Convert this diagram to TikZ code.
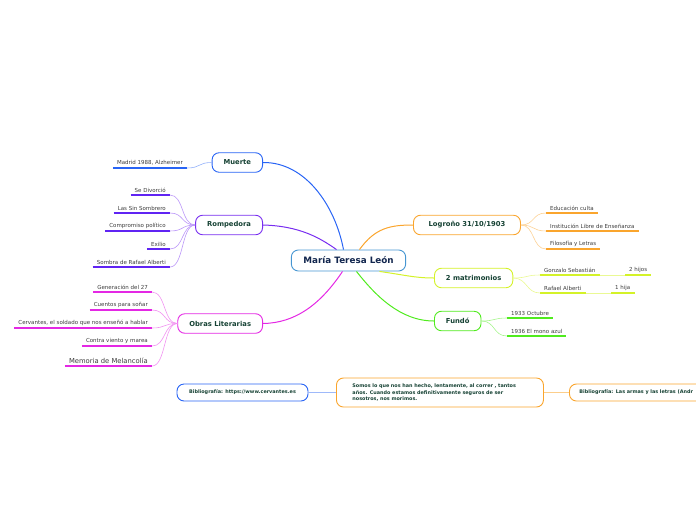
\documentclass[tikz,border=0pt]{standalone}
\usepackage{fontspec}
\setmainfont{DejaVu Sans}
\usetikzlibrary{calc}
\definecolor{mapC}{RGB}{70,150,210}
\definecolor{mapB}{RGB}{40,100,245}
\definecolor{mapP}{RGB}{120,45,240}
\definecolor{mapM}{RGB}{228,40,228}
\definecolor{mapO}{RGB}{250,165,45}
\definecolor{mapY}{RGB}{212,242,40}
\definecolor{mapG}{RGB}{80,235,30}
\definecolor{mapT}{RGB}{22,66,52}
\definecolor{mapN}{RGB}{18,38,78}
\definecolor{mapL}{RGB}{60,60,60}
\tikzset{
  topic/.style={draw=#1, line width=0.9pt, rounded corners=7pt, fill=white, text=mapT,
    font=\bfseries\fontsize{6.8}{8}\selectfont, minimum height=19.5pt, inner xsep=11.5pt},
  leaf/.style={inner xsep=4pt, inner ysep=2.5pt, text=mapL, font=\fontsize{5.5}{6.5}\selectfont},
  twig/.style={#1!50, line width=0.6pt},
  branch/.style={#1, line width=1pt},
  uline/.style={#1, line width=1.6pt},
  note/.style={draw=#1, line width=0.9pt, rounded corners=7pt, fill=white, text=mapT,
    font=\bfseries\fontsize{4.9}{6.3}\selectfont, minimum height=17pt, inner xsep=10pt}
}
\newcommand{\under}[2]{\draw[uline=#1] (#2.south west) -- (#2.south east);}

\begin{document}
\begin{tikzpicture}[x=1pt, y=-1pt]
\useasboundingbox (0,0) rectangle (696,520);
% centre
\node[topic=mapC, text=mapN, font=\bfseries\fontsize{8.8}{10}\selectfont, minimum height=21pt, inner xsep=12pt]
  (cen) at (348.5,260.5) {María Teresa León};
% left topics
\node[topic=mapB, anchor=east] (muerte) at (263,162.5) {Muerte};
\node[topic=mapP, anchor=east] (romp) at (263,225) {Rompedora};
\node[topic=mapM, anchor=east] (obras) at (263,323.5) {Obras Literarias};
% right topics
\node[topic=mapO, anchor=west, minimum width=107pt] (logro) at (413,225) {Logroño 31/10/1903};
\node[topic=mapY, anchor=west] (matri) at (434,278) {2 matrimonios};
\node[topic=mapG, anchor=west] (fundo) at (434,321) {Fundó};
% main branches
\draw[branch=mapB] (muerte.east) .. controls (305,162) and (335,205) .. ($(cen.north)+(-5,0)$);
\draw[branch=mapP] (romp.east) .. controls (300,226) and (320,238) .. ($(cen.north)+(-12,0)$);
\draw[branch=mapM] ($(cen.south)+(-6,0)$) .. controls (320,305) and (295,323) .. (obras.east);
\draw[branch=mapO] ($(cen.north)+(11,0)$) .. controls (375,228) and (390,225) .. (logro.west);
\draw[branch=mapY] ($(cen.south)+(31,0)$) .. controls (405,275) and (415,278) .. (matri.west);
\draw[branch=mapG] ($(cen.south)+(8,0)$) .. controls (375,295) and (400,321) .. (fundo.west);
% Muerte
\node[leaf, anchor=south east] (madrid) at (187,168) {Madrid 1988, Alzheimer};
\under{mapB}{madrid}
\draw[twig=mapB] (madrid.south east) .. controls +(14,0) and +(-14,0) .. (muerte.west);
% Rompedora
\node[leaf, anchor=south east] (divor) at (170,195) {Se Divorció};
\node[leaf, anchor=south east] (sombre) at (170,213) {Las Sin Sombrero};
\node[leaf, anchor=south east] (compro) at (170,231) {Compromiso político};
\node[leaf, anchor=south east] (exilio) at (170,249) {Exilio};
\node[leaf, anchor=south east] (alberti) at (170,267) {Sombra de Rafael Alberti};
\foreach \n in {divor,sombre,compro,exilio,alberti}{
  \under{mapP!80!blue}{\n}
  \draw[twig=mapP] (\n.south east) .. controls +(14,0) and +(-14,0) .. (romp.west);
}
% Obras Literarias
\node[leaf, anchor=south east] (gener) at (152,292) {Generación del 27};
\node[leaf, anchor=south east] (cuentos) at (152,310) {Cuentos para soñar};
\node[leaf, anchor=south east] (cervan) at (152,328) {Cervantes, el soldado que nos enseñó a hablar};
\node[leaf, anchor=south east] (contra) at (152,346) {Contra viento y marea};
\node[leaf, anchor=south east, font=\fontsize{6.8}{8}\selectfont] (memoria) at (152,366) {Memoria de Melancolía};
\foreach \n in {gener,cuentos,cervan,contra,memoria}{
  \under{mapM}{\n}
  \draw[twig=mapM] (\n.south east) .. controls +(14,0) and +(-14,0) .. (obras.west);
}
% Logroño
\node[leaf, anchor=south west] (educ) at (546,213) {Educación culta};
\node[leaf, anchor=south west] (insti) at (546,231) {Institución Libre de Enseñanza};
\node[leaf, anchor=south west] (filo) at (546,249) {Filosofía y Letras};
\foreach \n in {educ,insti,filo}{
  \under{mapO}{\n}
  \draw[twig=mapO] (logro.east) .. controls +(14,0) and +(-14,0) .. (\n.south west);
}
% matrimonios
\node[leaf, anchor=south west] (gonza) at (540,275) {Gonzalo Sebastián};
\node[leaf, anchor=south west] (rafael) at (540,293) {Rafael Alberti};
\node[leaf, anchor=south west] (hijos) at (625,275) {2 hijos};
\node[leaf, anchor=south west] (hija) at (611,293) {1 hija};
\foreach \n in {gonza,rafael,hijos,hija}{
  \under{mapY}{\n}
}
\foreach \n in {gonza,rafael}{
  \draw[twig=mapY] (matri.east) .. controls +(14,0) and +(-14,0) .. (\n.south west);
}
\draw[twig=mapY] (gonza.south east) -- (hijos.south west);
\draw[twig=mapY] (rafael.south east) -- (hija.south west);
% Fundó
\node[leaf, anchor=south west] (octu) at (507,318) {1933 Octubre};
\node[leaf, anchor=south west] (mono) at (507,336) {1936 El mono azul};
\foreach \n in {octu,mono}{
  \under{mapG}{\n}
  \draw[twig=mapG] (fundo.east) .. controls +(14,0) and +(-14,0) .. (\n.south west);
}
% bottom row
\node[note=mapB, minimum width=131pt] (cerva) at (242.5,392.5) {Bibliografía: https://www.cervantes.es};
\node[note=mapO, anchor=west, minimum height=29pt, text width=175pt, align=left, inner xsep=16pt]
  (quote) at (336,392.5) {Somos lo que nos han hecho, lentamente, al correr , tantos\\
  años. Cuando estamos definitivamente seguros de ser\\ nosotros, nos morimos.};
\node[note=mapO, anchor=west, text width=140pt, align=left] (armas) at (569,392.5)
  {Bibliografía: Las armas y las letras (Andr};
\draw[mapB!45, line width=1.5pt] (cerva.east) -- (quote.west);
\draw[mapO!55, line width=1.5pt] (quote.east) -- (armas.west);
\end{tikzpicture}
\end{document}
